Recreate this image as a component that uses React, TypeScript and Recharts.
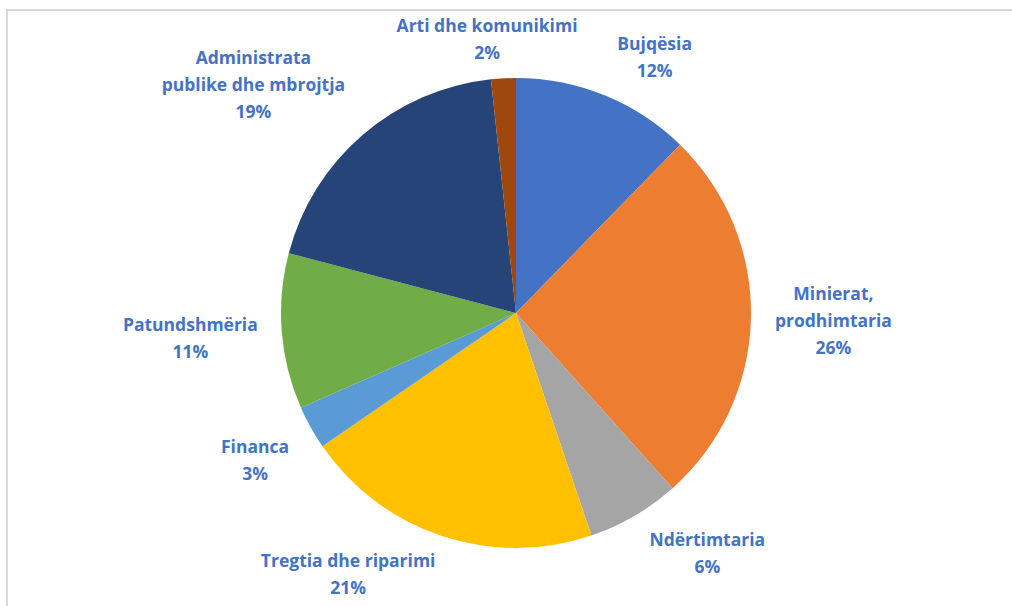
import { PieChart, Pie, Cell } from "recharts";

const sectors = [
  "Bujqësia",
  "Minierat,\nprodhimtaria",
  "Ndërtimtaria",
  "Tregtia dhe riparimi",
  "Financa",
  "Patundshmëria",
  "Administrata\npublike dhe mbrojtja",
  "Arti dhe komunikimi",
];
const shares = [12.3, 26.1, 6.4, 20.6, 3.0, 10.7, 19.2, 1.7];
const colors = [
  "#4472C4",
  "#ED7D31",
  "#A5A5A5",
  "#FFC000",
  "#5B9BD5",
  "#70AD47",
  "#264478",
  "#9E480E",
];

const data = sectors.map((name, i) => ({ name, value: shares[i] }));

const FONT_SIZE = 17.5;
const LINE_H = 27;
const FONT = `bold ${FONT_SIZE}px "Open Sans"`;
const RAD = Math.PI / 180;

let ctx: CanvasRenderingContext2D | null = null;
function textWidth(s: string) {
  if (!ctx) ctx = document.createElement("canvas").getContext("2d");
  if (!ctx) return s.length * FONT_SIZE * 0.58;
  ctx.font = FONT;
  return ctx.measureText(s).width;
}

const clamp = (v: number) => Math.max(-1, Math.min(1, v));

// outside-end label, box pushed away from the pie edge like Excel's best fit
function renderLabel(props: any) {
  const { cx, cy, midAngle, outerRadius, payload, percent } = props;
  const lines = [...String(payload.name).split("\n"), `${Math.round(percent * 100)}%`];
  const dx = Math.cos(-midAngle * RAD);
  const dy = Math.sin(-midAngle * RAD);
  const px = cx + (outerRadius + 18) * dx;
  const py = cy + (outerRadius + 12) * dy;
  const hw = Math.max(...lines.map(textWidth)) / 2 + 6;
  const hh = (lines.length * LINE_H) / 2;
  const bx = px + hw * clamp(dx * 3);
  const by = py + hh * clamp(dy * 3);
  const top = by - hh;
  return (
    <text x={bx} y={top} textAnchor="middle" fill="#4472C4" style={{ font: FONT }}>
      {lines.map((l, i) => (
        <tspan key={i} x={bx} y={top + LINE_H * i + LINE_H * 0.73}>
          {l}
        </tspan>
      ))}
    </text>
  );
}

export default function App() {
  return (
    <div
      style={{
        position: "absolute",
        top: 0,
        left: 0,
        width: 1012,
        height: 606,
        overflow: "hidden",
        background: "#fff",
      }}
    >
      <div
        style={{
          position: "absolute",
          left: 6,
          top: 9,
          width: 1040,
          height: 640,
          border: "2px solid #d9d9d9",
        }}
      />
      <PieChart width={1012} height={606} margin={{ top: 0, right: 0, bottom: 0, left: 0 }}>
        <Pie
          data={data}
          dataKey="value"
          nameKey="name"
          cx={516}
          cy={313}
          outerRadius={235}
          startAngle={90}
          endAngle={-270}
          stroke="none"
          label={renderLabel}
          labelLine={false}
          isAnimationActive={false}
        >
          {data.map((d, i) => (
            <Cell key={d.name} fill={colors[i]} />
          ))}
        </Pie>
      </PieChart>
    </div>
  );
}
